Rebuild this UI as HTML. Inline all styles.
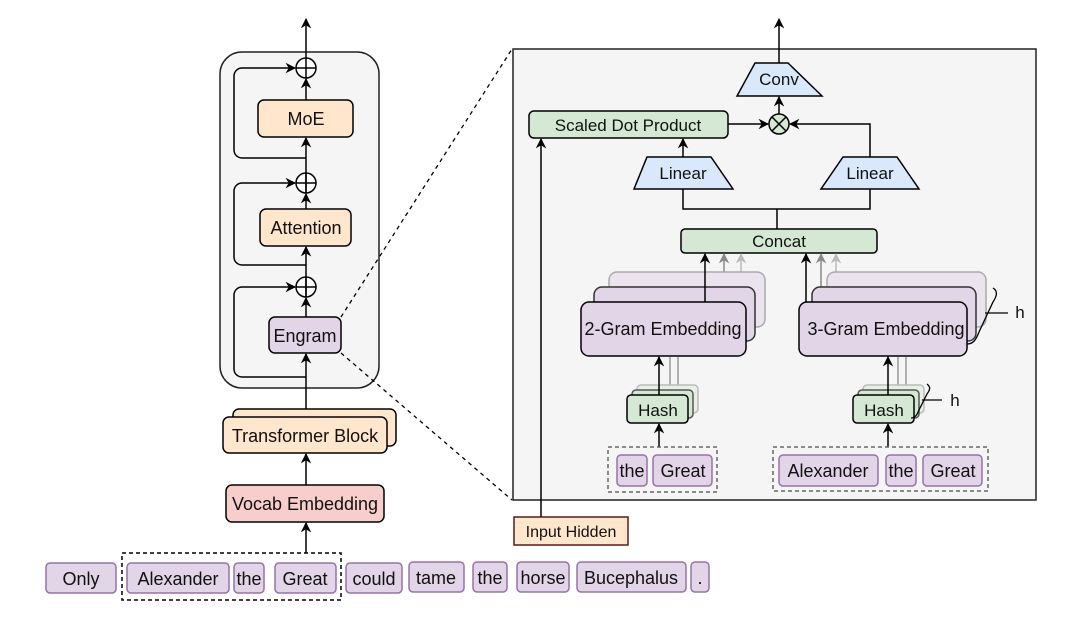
<!DOCTYPE html>
<html><head><style>body{margin:0;background:#fff}svg{display:block}text{font-family:"Liberation Sans",sans-serif;fill:#111}</style></head><body>
<svg width="1080" height="629" viewBox="0 0 1080 629" xmlns="http://www.w3.org/2000/svg">
<defs>
<marker id="a" viewBox="0 0 10 10" refX="9" refY="5" markerWidth="7" markerHeight="7" orient="auto-start-reverse"><path d="M0,0 L10,5 L0,10 L3,5 z" fill="#000"/></marker>
<marker id="g1" viewBox="0 0 10 10" refX="9" refY="5" markerWidth="7" markerHeight="7" orient="auto"><path d="M0,0 L10,5 L0,10 L3,5 z" fill="#888"/></marker>
<marker id="g2" viewBox="0 0 10 10" refX="9" refY="5" markerWidth="7" markerHeight="7" orient="auto"><path d="M0,0 L10,5 L0,10 L3,5 z" fill="#bbb"/></marker>
</defs>
<g stroke="#000" stroke-width="1.5" fill="none">
<rect x="220" y="52" width="159" height="336" rx="22" fill="#f5f5f5" stroke="#222"/>
<line x1="306" y1="52" x2="306" y2="19" marker-end="url(#a)"/>
<line x1="306" y1="78" x2="306" y2="52"/>
<circle cx="306" cy="68" r="10" fill="#fff"/><path d="M296,68h20M306,58v20"/>
<circle cx="306" cy="183" r="10" fill="#fff"/><path d="M296,183h20M306,173v20"/>
<circle cx="306" cy="287" r="10" fill="#fff"/><path d="M296,287h20M306,277v20"/>
<line x1="306" y1="100" x2="306" y2="79" marker-end="url(#a)"/>
<line x1="306" y1="193" x2="306" y2="138" marker-end="url(#a)"/>
<line x1="306" y1="209" x2="306" y2="194" marker-end="url(#a)"/>
<line x1="306" y1="297" x2="306" y2="247" marker-end="url(#a)"/>
<line x1="306" y1="317" x2="306" y2="298" marker-end="url(#a)"/>
<line x1="306" y1="417" x2="306" y2="354" marker-end="url(#a)"/>
<path d="M306,158H242a8,8 0 0 1 -8,-8V76a8,8 0 0 1 8,-8H295" marker-end="url(#a)"/>
<path d="M306,265H242a8,8 0 0 1 -8,-8V191a8,8 0 0 1 8,-8H295" marker-end="url(#a)"/>
<path d="M306,377H242a8,8 0 0 1 -8,-8V295a8,8 0 0 1 8,-8H295" marker-end="url(#a)"/>
<rect x="258" y="100" width="95" height="37" rx="6" fill="#ffe6cc"/>
<rect x="260" y="209" width="91" height="37" rx="6" fill="#ffe6cc"/>
<rect x="269" y="317" width="72" height="36" rx="6" fill="#e1d5e7"/>
<rect x="233" y="409" width="163" height="37" rx="6" fill="#ffe6cc"/>
<rect x="223" y="417" width="164" height="36" rx="6" fill="#ffe6cc"/>
<line x1="306" y1="485" x2="306" y2="454" marker-end="url(#a)"/>
<rect x="226" y="485" width="158" height="37" rx="6" fill="#f8cecc"/>
<line x1="306" y1="553" x2="306" y2="523" marker-end="url(#a)"/>
<rect x="122" y="553" width="219" height="47" stroke-dasharray="4,3"/>
<line x1="341" y1="317" x2="512" y2="49" stroke-dasharray="4,4" stroke-width="1.3"/>
<line x1="341" y1="353" x2="512" y2="500" stroke-dasharray="4,4" stroke-width="1.3"/>
<rect x="513" y="49" width="523" height="451" fill="#f5f5f5" stroke="#222"/>
<line x1="779" y1="63" x2="779" y2="19" marker-end="url(#a)"/>
<path d="M755,63H788L822,96H737Z" fill="#dae8fc"/>
<line x1="779" y1="114" x2="779" y2="97" marker-end="url(#a)"/>
<circle cx="779" cy="124" r="10" fill="#d5e8d4"/><path d="M772,117l14,14M786,117l-14,14"/>
<rect x="529" y="111" width="199" height="27" rx="5" fill="#d5e8d4"/>
<line x1="728" y1="124" x2="768" y2="124" marker-end="url(#a)"/>
<path d="M870,157V124H790" marker-end="url(#a)"/>
<line x1="683" y1="157" x2="683" y2="139" marker-end="url(#a)"/>
<path d="M647,157H711L733,189H634Z" fill="#dae8fc"/>
<path d="M843,157H897L919,189H821Z" fill="#dae8fc"/>
<path d="M683,189V209H870V189M777,209V229"/>
<rect x="681" y="229" width="196" height="24" rx="4" fill="#d5e8d4"/>
<line x1="541" y1="517" x2="541" y2="139" marker-end="url(#a)"/>
<rect x="514" y="517" width="114" height="28" fill="#ffe6cc" stroke="#5a1a1a"/>
<line x1="741" y1="272" x2="741" y2="254" stroke="#bbb" marker-end="url(#g2)"/>
<line x1="724" y1="287" x2="724" y2="254" stroke="#888" marker-end="url(#g1)"/>
<rect x="609" y="272" width="156" height="55" rx="8" fill="#ebe3ee" stroke="#aaa"/>
<rect x="594" y="287" width="161" height="54" rx="8" fill="#e1d5e7" stroke="#333"/>
<rect x="581" y="302" width="165" height="54" rx="8" fill="#e1d5e7"/>
<line x1="705" y1="302" x2="705" y2="254" marker-end="url(#a)"/>
<line x1="836" y1="272" x2="836" y2="254" stroke="#bbb" marker-end="url(#g2)"/>
<line x1="821" y1="287" x2="821" y2="254" stroke="#888" marker-end="url(#g1)"/>
<rect x="827" y="272" width="159" height="55" rx="8" fill="#ebe3ee" stroke="#aaa"/>
<rect x="812" y="287" width="164" height="54" rx="8" fill="#e1d5e7" stroke="#333"/>
<rect x="799" y="302" width="168" height="54" rx="8" fill="#e1d5e7"/>
<line x1="806" y1="302" x2="806" y2="254" marker-end="url(#a)"/>
<path d="M993,288c5,3 4,8 0,14l-14,30c-3,8 -6,12 -12,12M985,313H1008" stroke-width="1.3"/>
<path d="M670,385V357M678,385V357" stroke="#999"/>
<rect x="637" y="385" width="61" height="28" rx="4" fill="#e8f0e6" stroke="#bbb"/>
<rect x="632" y="390" width="61" height="28" rx="4" fill="#d5e8d4" stroke="#555"/>
<rect x="627" y="395" width="61" height="28" rx="4" fill="#d5e8d4"/>
<line x1="659" y1="395" x2="659" y2="357" marker-end="url(#a)"/>
<line x1="659" y1="447" x2="659" y2="424" marker-end="url(#a)"/>
<path d="M898,385V357M906,385V357" stroke="#999"/>
<rect x="863" y="385" width="61" height="28" rx="4" fill="#e8f0e6" stroke="#bbb"/>
<rect x="858" y="390" width="61" height="28" rx="4" fill="#d5e8d4" stroke="#555"/>
<rect x="853" y="395" width="61" height="28" rx="4" fill="#d5e8d4"/>
<line x1="888" y1="395" x2="888" y2="357" marker-end="url(#a)"/>
<line x1="888" y1="447" x2="888" y2="424" marker-end="url(#a)"/>
<path d="M927,384c4,3 3,6 0,10l-8,16c-2,5 -4,8 -8,8M922,400H942" stroke-width="1.3"/>
<rect x="608" y="447" width="109" height="45" stroke="#666" stroke-dasharray="4,3"/>
<rect x="773" y="447" width="215" height="44" stroke="#666" stroke-dasharray="4,3"/>
</g>
<g fill="#e1d5e7" stroke="#9673a6" stroke-width="1.5">
<rect x="617" y="455" width="30" height="31" rx="4"/><rect x="653" y="455" width="59" height="31" rx="4"/>
<rect x="779" y="455" width="99" height="31" rx="4"/><rect x="886" y="455" width="30" height="31" rx="4"/><rect x="923" y="455" width="59" height="31" rx="4"/>
<rect x="46" y="563" width="70" height="30" rx="4"/><rect x="127" y="563" width="102" height="30" rx="4"/><rect x="234" y="563" width="30" height="30" rx="4"/><rect x="275" y="563" width="61" height="30" rx="4"/>
<rect x="346" y="563" width="56" height="30" rx="4"/><rect x="409" y="562" width="55" height="30" rx="4"/><rect x="473" y="562" width="34" height="30" rx="4"/><rect x="517" y="562" width="52" height="30" rx="4"/><rect x="577" y="562" width="109" height="30" rx="4"/><rect x="691" y="562" width="18" height="30" rx="4"/>
</g>
<g font-size="18" text-anchor="middle">
<text x="306" y="125">MoE</text>
<text x="306" y="234">Attention</text>
<text x="305" y="342">Engram</text>
<text x="305" y="442">Transformer Block</text>
<text x="305" y="510">Vocab Embedding</text>
<text x="779" y="85" font-size="17">Conv</text>
<text x="628" y="131" font-size="17">Scaled Dot Product</text>
<text x="683" y="179" font-size="17">Linear</text>
<text x="870" y="179" font-size="17">Linear</text>
<text x="779" y="247" font-size="17">Concat</text>
<text x="663" y="335">2-Gram Embedding</text>
<text x="886" y="335">3-Gram Embedding</text>
<text x="658" y="416" font-size="17">Hash</text>
<text x="884" y="416" font-size="17">Hash</text>
<text x="1020" y="318" font-size="17">h</text>
<text x="955" y="406" font-size="17">h</text>
<text x="571" y="537" font-size="16">Input Hidden</text>
<text x="632" y="477">the</text><text x="683" y="477">Great</text>
<text x="828" y="477">Alexander</text><text x="901" y="477">the</text><text x="953" y="477">Great</text>
<text x="81" y="585">Only</text><text x="178" y="585">Alexander</text><text x="249" y="585">the</text><text x="305" y="585">Great</text>
<text x="374" y="585">could</text><text x="436" y="584">tame</text><text x="490" y="584">the</text><text x="543" y="584">horse</text><text x="631" y="584">Bucephalus</text><text x="700" y="584">.</text>
</g>
</svg>
</body></html>
